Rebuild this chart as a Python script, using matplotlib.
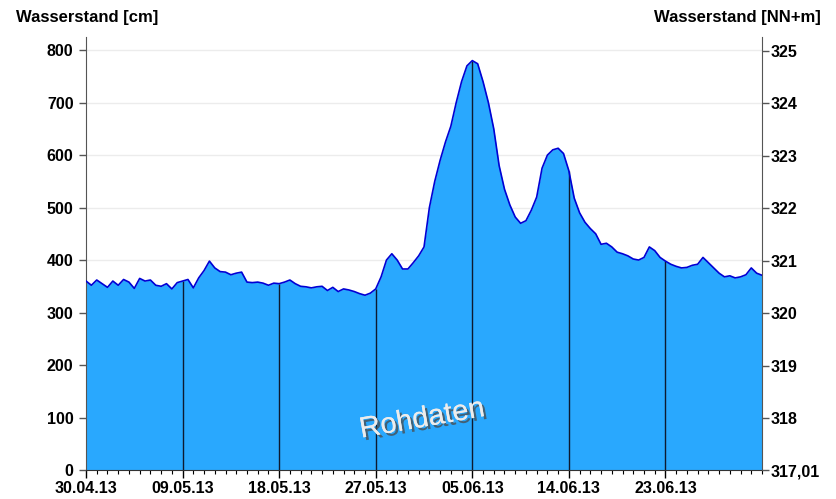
import numpy as np
import pandas as pd
import matplotlib
matplotlib.use("Agg")
import matplotlib.pyplot as plt
import matplotlib.dates as mdates
import matplotlib.ticker as mticker
import matplotlib.patheffects as pe

plt.rcParams["font.family"] = ["Liberation Sans", "DejaVu Sans"]

# Pegel, halbtaegig ab 30.04.2013 (cm)
start = "2013-04-30"
level_cm = [
    360, 352, 362, 355, 348, 360, 352, 363, 358, 346,
    365, 360, 362, 352, 350, 355, 345, 357, 360, 363,
    347, 366, 380, 398, 385, 378, 377, 372, 375, 377,
    358, 357, 358, 356, 352, 356, 355, 358, 362, 355,
    350, 349, 347, 349, 350, 342, 348, 340, 345, 343,
    340, 336, 333, 337, 345, 368, 400, 412, 400, 383,
    383, 395, 408, 425, 500, 550, 590, 625, 655, 700,
    740, 770, 780, 774, 740, 700, 650, 580, 535, 505,
    482, 470, 475, 495, 520, 575, 600, 610, 613, 603,
    570, 518, 490, 472, 460, 450, 430, 432, 425, 415,
    412, 408, 402, 400, 405, 425, 418, 405, 398, 392,
    388, 385, 386, 390, 392, 405, 395, 385, 375, 368,
    370, 366, 368, 372, 385, 375, 371,
]
dates = pd.date_range(start, periods=len(level_cm), freq="12h")
level = np.array(level_cm, dtype=float)

tick_dates = pd.date_range(start, periods=7, freq="9D")
right_ticks = [318, 319, 320, 321, 322, 323, 324, 325]
nn_zero = 317.01

fig = plt.figure(figsize=(8.36, 4.99), dpi=100)
ax = fig.add_axes([0.1029, 0.0581, 0.8086, 0.8678])

fill_col = "#29a8fe"
ax.set_axisbelow(True)
ax.yaxis.grid(True, color="#ececec", lw=1)
ax.fill_between(dates, 0, level, color=fill_col, lw=0, zorder=2)
ax.plot(dates, level, color="#0000d4", lw=1.2, zorder=3)

# vertikale Linien an den Hauptticks
idx = [int((d - dates[0]) / pd.Timedelta("12h")) for d in tick_dates[1:]]
ax.vlines(tick_dates[1:], 0, level[idx], color="#0d1a30", lw=1.0, zorder=2.5)

ax.set_xlim(dates[0], dates[-1])
ax.set_ylim(0, 825)
ax.set_yticks(range(0, 801, 100))
ax.xaxis.set_major_locator(mticker.FixedLocator(mdates.date2num(tick_dates)))
ax.xaxis.set_major_formatter(mdates.DateFormatter("%d.%m.%y"))
ax.xaxis.set_minor_locator(mdates.DayLocator())

fs = 11.5
for s in ["top", "right"]:
    ax.spines[s].set_visible(False)
ax.spines["left"].set_color("#555555")
ax.spines["bottom"].set_color("#333333")
ax.tick_params(axis="y", length=5, width=1, color="#555555", labelsize=fs, pad=4)
ax.tick_params(axis="x", which="major", length=6, width=1, labelsize=fs, pad=2)
ax.tick_params(axis="x", which="minor", length=3, width=0.8)
for lab in ax.get_xticklabels() + ax.get_yticklabels():
    lab.set_fontweight("bold")

ax2 = ax.twinx()
ax2.set_ylim(nn_zero, nn_zero + 8.25)
ax2.set_yticks([nn_zero] + right_ticks)
ax2.set_yticklabels(["317,01"] + [str(t) for t in right_ticks])
for s in ["top", "left", "bottom"]:
    ax2.spines[s].set_visible(False)
ax2.spines["right"].set_color("#555555")
ax2.tick_params(axis="y", length=5, width=1, color="#555555", labelsize=fs, pad=1)
for lab in ax2.get_yticklabels():
    lab.set_fontweight("bold")

fig.text(0.019, 0.965, "Wasserstand [cm]", fontsize=fs + 0.5, fontweight="bold", va="center")
fig.text(0.982, 0.965, "Wasserstand [NN+m]", fontsize=fs + 0.5, fontweight="bold",
         va="center", ha="right")

ax.text(0.497, 0.118, "Rohdaten", transform=ax.transAxes, fontsize=21,
        color="#ececec", rotation=10, ha="center", va="center", zorder=4,
        path_effects=[pe.withSimplePatchShadow(offset=(2, -2), shadow_rgbFace="#4a4a4a", alpha=0.75),
                      pe.Normal()])

fig.savefig("out.png", dpi=100)
